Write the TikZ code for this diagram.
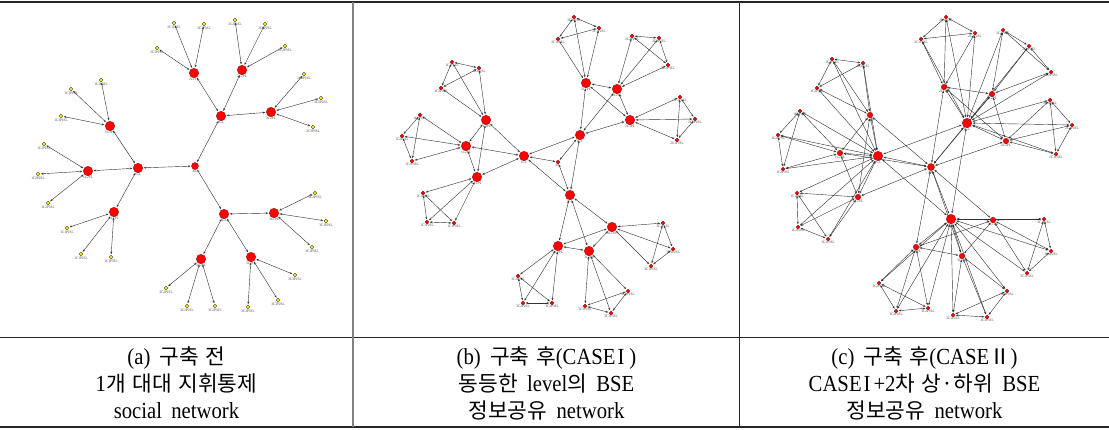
\documentclass[tikz,border=0pt]{standalone}
\usepackage{fontspec}
\setmainfont{Liberation Serif}[FakeStretch=0.9,WordSpace=1.8]
\newfontfamily\kr{Noto Sans CJK KR}[Scale=0.93,WordSpace=1.4]
\usetikzlibrary{arrows.meta,backgrounds}
\tikzset{
  e/.style={<->,>={Stealth[length=2.6pt,width=2pt]},line width=0.42pt,draw=black!80,shorten <=0.8pt,shorten >=0.8pt},
  lbl/.style={font=\fontsize{3.8}{4}\selectfont,text=black!75,inner sep=0.3pt},
  rednode/.style={circle,fill=red,draw=red!55!black,line width=0.3pt,inner sep=0pt},
  bigred/.style={rednode,minimum size=9.5pt},
  midred/.style={rednode,minimum size=7pt},
  hubc/.style={rednode,minimum size=5.5pt},
  smallred/.style={rednode,minimum size=3.6pt},
  leafy/.style={circle,fill=yellow,draw=black!75,line width=0.4pt,inner sep=0pt,minimum size=3.6pt},
  rule/.style={line width=1.5pt,draw=black!85},
  capt/.style={align=center,font=\fontsize{23}{27}\selectfont,inner sep=0pt}
}
\begin{document}
\begin{tikzpicture}[x=1pt,y=-1pt]
\useasboundingbox (0,0) rectangle (1109,429);
% ---------------- table rules
\draw[rule] (0,2) -- (1109,2);
\draw[line width=1pt,draw=black!85] (0,337) -- (1109,337);
\draw[rule] (0,427) -- (1109,427);
\draw[line width=2pt,draw=black!50] (353,2) -- (353,427);
\draw[line width=0.8pt,draw=black!85] (739,2) -- (739,427);

% ================= panel (a)
\node[midred,label={[lbl]below:BC}] (aBC) at (195,166) {};
\foreach \n/\x/\y in {1/138/168,2/221/116,3/224/214}
  \node[bigred,label={[lbl]below:\n CC}] (a\n CC) at (\x,\y) {};
\foreach \n/\x/\y/\t in {a1C1/114/212/1C1PL,a1C2/88/171/1C2PL,a1C3/110/126/1C3PL,
  a2C1/194/73/2C1PL,a2C2/242/70/2C2PL,a2C3/271/112/2C3PL,
  a3C1/274/213/3C1PL,a3C2/201/259/3C2PL,a3C3/251/257/3C3PL}
  \node[bigred,label={[lbl]below:\t}] (\n) at (\x,\y) {};
\foreach \n/\x/\y/\t in {
  a1C3L1/61/116/1C3P1SL,a1C3L2/71/89/1C3P2SL,a1C3L3/101/80/1C3P3SL,
  a1C2L1/44/144/1C2P1SL,a1C2L2/38/174/1C2P2SL,a1C2L3/48/203/1C2P3SL,
  a1C1L1/67/228/1C1P1SL,a1C1L2/81/254/1C1P2SL,a1C1L3/111/257/1C1P3SL,
  a2C1L1/157/48/2C1P1SL,a2C1L2/174/23/2C1P2SL,a2C1L3/204/24/2C1P3SL,
  a2C2L1/235/20/2C2P1SL,a2C2L2/265/24/2C2P2SL,a2C2L3/285/46/2C2P3SL,
  a2C3L1/304/74/2C3P1SL,a2C3L2/321/98/2C3P2SL,a2C3L3/313/127/2C3P3SL,
  a3C1L1/315/193/3C1P1SL,a3C1L2/326/221/3C1P2SL,a3C1L3/312/247/3C1P3SL,
  a3C2L1/166/288/3C2P1SL,a3C2L2/187/306/3C2P2SL,a3C2L3/215/306/3C2P3SL,
  a3C3L1/295/275/3C3P1SL,a3C3L2/278/300/3C3P2SL,a3C3L3/248/307/3C3P3SL}
  \node[leafy,label={[lbl]below:\t}] (\n) at (\x,\y) {};

% ================= panel (b)
\node[smallred,label={[lbl]below:BC}] (bBC) at (558,162) {};
\foreach \n/\x/\y in {1/524/156,2/580/135,3/570/195}
  \node[bigred,label={[lbl]below:\n CC}] (b\n CC) at (\x,\y) {};
\foreach \n/\x/\y/\t in {b1C1/477/177/1C1PL,b1C2/466/146/1C2PL,b1C3/486/120/1C3PL,
  b2C1/586/83/2C1PL,b2C2/617/89/2C2PL,b2C3/630/120/2C3PL,
  b3C1/612/227/3C1PL,b3C2/558/246/3C2PL,b3C3/589/251/3C3PL}
  \node[bigred,label={[lbl]below:\t}] (\n) at (\x,\y) {};
\foreach \n/\x/\y/\t in {
  b1C3L1/452/62/1C3P1SL,b1C3L2/479/68/1C3P2SL,b1C3L3/441/88/1C3P3SL,
  b1C2L1/420/115/1C2P1SL,b1C2L2/402/136/1C2P2SL,b1C2L3/412/161/1C2P3SL,
  b1C1L1/423/193/1C1P1SL,b1C1L2/427/222/1C1P2SL,b1C1L3/454/223/1C1P3SL,
  b2C1L1/574/17/2C1P1SL,b2C1L2/599/28/2C1P2SL,b2C1L3/558/39/2C1P3SL,
  b2C2L1/632/36/2C2P1SL,b2C2L2/659/38/2C2P2SL,b2C2L3/668/65/2C2P3SL,
  b2C3L1/680/97/2C3P1SL,b2C3L2/695/119/2C3P2SL,b2C3L3/677/140/2C3P3SL,
  b3C1L1/663/223/3C1P1SL,b3C1L2/673/249/3C1P2SL,b3C1L3/651/266/3C1P3SL,
  b3C2L1/518/276/3C2P1SL,b3C2L2/523/303/3C2P2SL,b3C2L3/552/303/3C2P3SL,
  b3C3L1/628/291/3C3P1SL,b3C3L2/585/306/3C3P2SL,b3C3L3/611/313/3C3P3SL}
  \node[smallred,label={[lbl]below:\t}] (\n) at (\x,\y) {};

% ================= panel (c)
\node[midred,label={[lbl]below:BC}] (cBC) at (931,167) {};
\foreach \n/\x/\y in {1/878/156,2/967/123,3/951/219}
  \node[bigred,label={[lbl]below:\n CC}] (c\n CC) at (\x,\y) {};
\foreach \n/\x/\y/\t in {c1C1/858/197/1C1PL,c1C2/840/153/1C2PL,c1C3/870/115/1C3PL,
  c2C1/944/87/2C1PL,c2C2/992/94/2C2PL,c2C3/1006/141/2C3PL,
  c3C1/993/220/3C1PL,c3C2/916/247/3C2PL,c3C3/962/256/3C3PL}
  \node[hubc,label={[lbl]below:\t}] (\n) at (\x,\y) {};
\foreach \n/\x/\y/\t in {
  c1C3L1/832/59/1C3P1SL,c1C3L2/863/63/1C3P2SL,c1C3L3/817/88/1C3P3SL,
  c1C2L1/800/111/1C2P1SL,c1C2L2/778/135/1C2P2SL,c1C2L3/783/169/1C2P3SL,
  c1C1L1/797/193/1C1P1SL,c1C1L2/798/227/1C1P2SL,c1C1L3/828/239/1C1P3SL,
  c2C1L1/946/17/2C1P1SL,c2C1L2/975/33/2C1P2SL,c2C1L3/921/39/2C1P3SL,
  c2C2L1/1003/30/2C2P1SL,c2C2L2/1029/46/2C2P2SL,c2C2L3/1051/72/2C2P3SL,
  c2C3L1/1050/100/2C3P1SL,c2C3L2/1072/125/2C3P2SL,c2C3L3/1056/154/2C3P3SL,
  c3C1L1/1044/219/3C1P1SL,c3C1L2/1051/251/3C1P2SL,c3C1L3/1027/273/3C1P3SL,
  c3C2L1/879/283/3C2P1SL,c3C2L2/896/311/3C2P2SL,c3C2L3/928/308/3C2P3SL,
  c3C3L1/1007/291/3C3P1SL,c3C3L2/953/315/3C3P2SL,c3C3L3/987/317/3C3P3SL}
  \node[smallred,label={[lbl]below:\t}] (\n) at (\x,\y) {};

% ================= connectors (behind nodes)
\begin{pgfonlayer}{background}
% panel a
\foreach \c in {1,2,3}{
  \draw[e] (aBC) -- (a\c CC);
  \foreach \p in {1,2,3}{
    \draw[e] (a\c CC) -- (a\c C\p);
    \foreach \i in {1,2,3}{\draw[e] (a\c C\p) -- (a\c C\p L\i);}
  }
}
% panels b and c
\foreach \P in {b,c}{
  \draw[e] (\P1CC) -- (\P2CC);
  \draw[e] (\P1CC) -- (\P3CC);
  \draw[e] (\P2CC) -- (\P3CC);
  \foreach \c in {1,2,3}{
    \draw[e] (\P BC) -- (\P\c CC);
    \draw[e] (\P\c C1) -- (\P\c C2);
    \draw[e] (\P\c C2) -- (\P\c C3);
    \draw[e] (\P\c C1) -- (\P\c C3);
    \foreach \p in {1,2,3}{
      \draw[e] (\P\c CC) -- (\P\c C\p);
      \draw[e] (\P\c C\p L1) -- (\P\c C\p L2);
      \draw[e] (\P\c C\p L2) -- (\P\c C\p L3);
      \draw[e] (\P\c C\p L1) -- (\P\c C\p L3);
      \foreach \i in {1,2,3}{\draw[e] (\P\c C\p) -- (\P\c C\p L\i);}
    }
  }
}
% extra links of panel c
\foreach \c in {1,2,3}{
  \foreach \p in {1,2,3}{
    \draw[e] (cBC) -- (c\c C\p);
    \foreach \i in {1,2,3}{\draw[e] (c\c CC) -- (c\c C\p L\i);}
  }
}
\end{pgfonlayer}

% ================= captions
\node[capt] (capa) at (176.5,383) {(a) {\kr 구축 전}\\1{\kr 개 대대 지휘통제}\\social network};
\node[capt] (capb) at (546.5,383) {(b) {\kr 구축 후}(CASE\kern2pt I\kern5pt)\\{\kr 동등한} level{\kr 의} BSE\\{\kr 정보공유} network};
\node[capt] (capc) at (924.5,383) {(c) {\kr 구축 후}(CASE{\kr Ⅱ})\\CASE\kern2pt I\kern3pt+2{\kr 차 상·하위} BSE\\{\kr 정보공유} network};
\end{tikzpicture}
\end{document}
